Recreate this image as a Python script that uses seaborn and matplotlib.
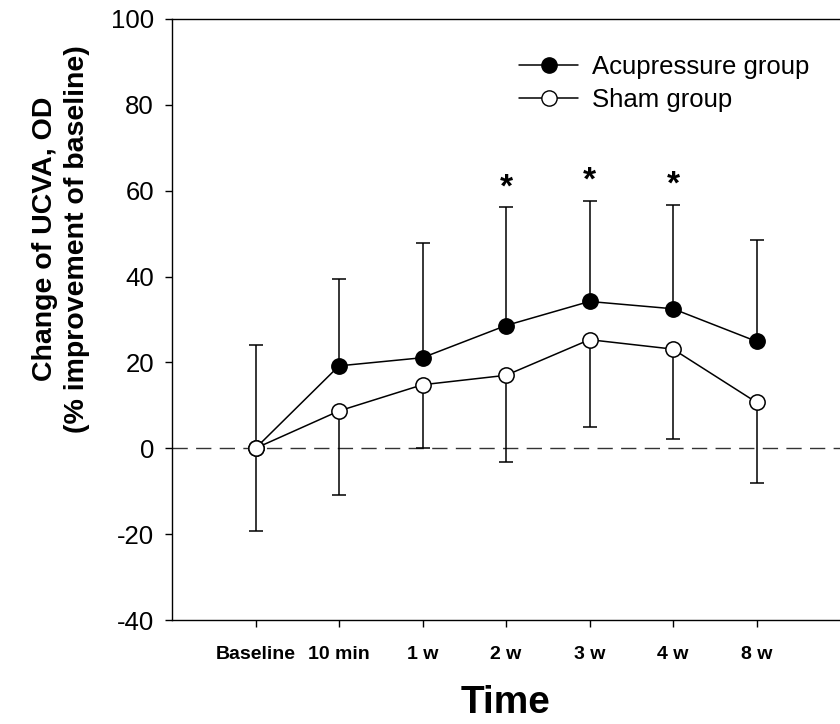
import matplotlib
matplotlib.use("Agg")
import matplotlib.pyplot as plt
import seaborn as sns
import pandas as pd
import numpy as np
from matplotlib.lines import Line2D

# ---- data ----
time_labels = ["Baseline", "10 min", "1 w", "2 w", "3 w", "4 w", "8 w"]
acu_mean = [0.0, 19.2, 21.1, 28.6, 34.2, 32.5, 24.9]
acu_upper = [24.1, 39.4, 47.9, 56.2, 57.7, 56.7, 48.5]
sham_mean = [0.0, 8.7, 14.8, 17.0, 25.3, 23.1, 10.7]
sham_lower = [-19.3, -10.9, 0.15, -3.3, 5.0, 2.2, -8.1]
significant = ["2 w", "3 w", "4 w"]
y_ticks = [-40, -20, 0, 20, 40, 60, 80, 100]

sns.set_theme(style="ticks")
plt.rcParams["font.family"] = ["Liberation Sans", "DejaVu Sans"]
plt.rcParams["text.color"] = "black"
plt.rcParams["axes.labelcolor"] = "black"
plt.rcParams["xtick.color"] = "black"
plt.rcParams["ytick.color"] = "black"
BOLD = ["Liberation Sans Narrow", "Liberation Sans", "DejaVu Sans"]

df = pd.DataFrame({
    "Time": time_labels * 2,
    "value": acu_mean + sham_mean,
    "group": ["Acupressure group"] * len(time_labels) + ["Sham group"] * len(time_labels),
})

fig = plt.figure(figsize=(8.4, 7.24), dpi=100)
ax = fig.add_axes([172 / 840, 1 - 620 / 724, 1 - 172 / 840, (620 - 19) / 724])

pos = np.arange(len(time_labels))
acu_mean_a = np.array(acu_mean)
sham_mean_a = np.array(sham_mean)

# zero reference line
ax.axhline(0, color="#333333", lw=1.0, ls=(0, (11, 6)), zorder=1)

# error bars (one sided)
ax.errorbar(pos, acu_mean_a, yerr=[np.zeros_like(acu_mean_a), np.array(acu_upper) - acu_mean_a],
            fmt="none", ecolor="black", elinewidth=1.1, capsize=5, capthick=1.1, zorder=2)
ax.errorbar(pos, sham_mean_a, yerr=[sham_mean_a - np.array(sham_lower), np.zeros_like(sham_mean_a)],
            fmt="none", ecolor="black", elinewidth=1.1, capsize=5, capthick=1.1, zorder=2)

sns.lineplot(data=df[df.group == "Acupressure group"], x="Time", y="value", ax=ax,
             color="black", lw=1.1, marker="o", markersize=11, markerfacecolor="black",
             markeredgecolor="black", markeredgewidth=1.1, zorder=3, legend=False)
sns.lineplot(data=df[df.group == "Sham group"], x="Time", y="value", ax=ax,
             color="black", lw=1.1, marker="o", markersize=11, markerfacecolor="white",
             markeredgecolor="black", markeredgewidth=1.1, zorder=4, legend=False)

# significance stars
for lab in significant:
    i = time_labels.index(lab)
    ax.text(i, acu_upper[i] + 0.9, "*", ha="center", va="bottom",
            fontsize=24, fontweight="bold", family=BOLD)

ax.set_xlim(-1, 7)
ax.set_ylim(-40, 100)
ax.set_yticks(y_ticks)
ax.set_yticklabels([str(t) for t in y_ticks], fontsize=18.5)
ax.set_xticks(pos)
ax.set_xticklabels(time_labels, fontsize=14, fontweight="bold", family=BOLD)
ax.tick_params(axis="both", direction="out", length=5, width=1, color="black", labelcolor="black")
ax.tick_params(axis="y", pad=8)
ax.tick_params(axis="x", pad=14)

for s in ["left", "top", "bottom"]:
    ax.spines[s].set_color("black")
    ax.spines[s].set_linewidth(1)
ax.spines["right"].set_visible(False)

ax.set_xlabel("Time", fontsize=28, fontweight="bold", family=BOLD)
ax.xaxis.set_label_coords(0.5, (620 - 685) / 601)
ax.set_ylabel("Change of UCVA, OD\n(% improvement of baseline)", fontsize=20.5,
              fontweight="bold", family=BOLD, linespacing=1.3)
ax.yaxis.set_label_coords((90 - 172) / 668, (620 - 239) / 601)

handles = [
    Line2D([], [], color="black", lw=1.1, marker="o", markersize=11,
           markerfacecolor="black", markeredgecolor="black"),
    Line2D([], [], color="black", lw=1.1, marker="o", markersize=11,
           markerfacecolor="white", markeredgecolor="black"),
]
leg = ax.legend(handles, ["Acupressure group", "Sham group"], frameon=False,
                fontsize=18.5, handlelength=2.3, handletextpad=0.55, labelspacing=0.36,
                loc="upper left", borderpad=0, borderaxespad=0)
leg.set_bbox_to_anchor((519 / 840, 1 - 55 / 724), transform=fig.transFigure)

fig.savefig("out.png", dpi=100, facecolor="white")
